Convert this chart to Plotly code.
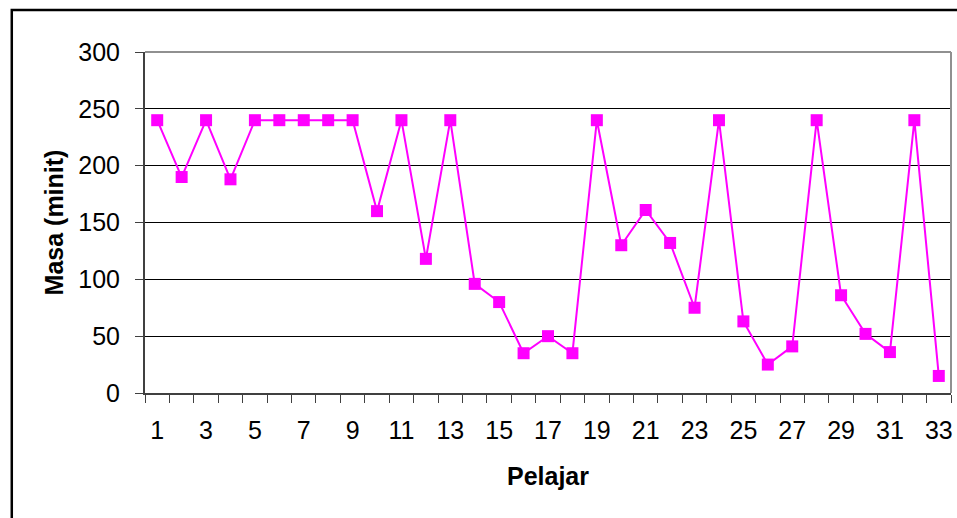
import plotly.graph_objects as go

pelajar = list(range(1, 34))
masa = [240, 190, 240, 188, 240, 240, 240, 240, 240, 160, 240, 118, 240, 96, 80, 35, 50,
        35, 240, 130, 161, 132, 75, 240, 63, 25, 41, 240, 86, 52, 36, 240, 15]
x_tick_labels = [str(v) for v in range(1, 34, 2)]
y_tick_values = [0, 50, 100, 150, 200, 250, 300]

FONT = "Liberation Sans, Arial, sans-serif"

fig = go.Figure()
fig.add_trace(go.Scatter(
    x=pelajar, y=masa, mode="lines+markers",
    line=dict(color="#FF00FF", width=2),
    marker=dict(symbol="square", size=12, color="#FF00FF"),
    cliponaxis=False, showlegend=False,
))

fig.update_layout(
    width=957, height=518,
    margin=dict(l=145, r=4, t=52, b=125),
    paper_bgcolor="white", plot_bgcolor="white",
    font=dict(family=FONT, color="black", size=25),
    xaxis=dict(
        range=[0.5, 33.5], tickmode="array",
        tickvals=list(range(1, 34, 2)), ticktext=x_tick_labels,
        ticks="", showgrid=False, zeroline=False,
        showline=True, linecolor="#404040", linewidth=2,
        tickfont=dict(size=25), ticklabelstandoff=14,
        minor=dict(tickmode="linear", tick0=0.5, dtick=1, ticks="outside",
                   ticklen=8, tickwidth=1, tickcolor="#404040", showgrid=False),
        title=dict(text="<b>Pelajar</b>", font=dict(size=25), standoff=24),
        fixedrange=True,
    ),
    yaxis=dict(
        range=[0, 300], tickmode="array", tickvals=y_tick_values,
        ticks="outside", ticklen=8, tickwidth=1, tickcolor="#404040",
        showgrid=True, gridcolor="black", gridwidth=1, zeroline=False,
        showline=True, linecolor="#404040", linewidth=2,
        tickfont=dict(size=25), ticklabelstandoff=10,
        title=dict(text="<b>Masa (minit)</b>", font=dict(size=25), standoff=8),
        fixedrange=True,
    ),
    shapes=[
        dict(type="line", xref="paper", yref="paper", x0=0, x1=1, y0=1, y1=1,
             line=dict(color="#909090", width=2), layer="above"),
        dict(type="line", xref="paper", yref="paper", x0=1, x1=1, y0=0, y1=1,
             line=dict(color="#909090", width=2), layer="above"),
        dict(type="rect", xref="paper", yref="paper",
             x0=(11.5 - 145) / 807.7, x1=1.05, y0=-0.5, y1=(393 - 10) / 341,
             line=dict(color="black", width=2.5), layer="below"),
    ],
)

fig.write_html(
    "out.html",
    config={"displayModeBar": False},
    post_script="document.body.style.margin='0';document.body.style.overflow='hidden';",
)
